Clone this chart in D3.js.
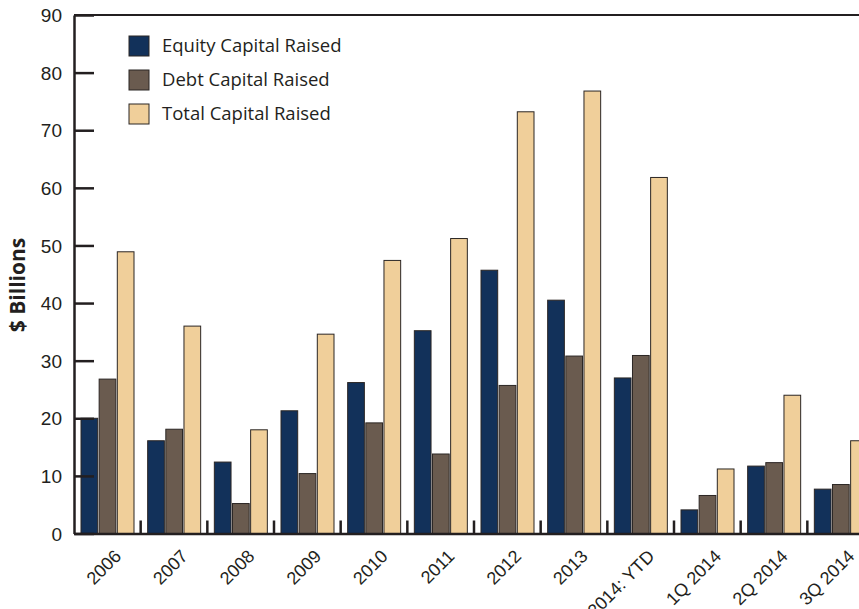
<!DOCTYPE html>
<html>
<head>
<meta charset="utf-8">
<script src="https://cdn.jsdelivr.net/npm/d3@7"></script>
<style>
  html, body { margin: 0; padding: 0; background: #fff; }
  svg { display: block; font-family: "Open Sans", "Noto Sans", sans-serif; }
</style>
</head>
<body>
<svg id="chart" width="859" height="609"></svg>
<script>
const categories = ["2006","2007","2008","2009","2010","2011","2012","2013","2014: YTD","1Q 2014","2Q 2014","3Q 2014"];
const seriesNames = ["Equity Capital Raised","Debt Capital Raised","Total Capital Raised"];
const equity = [20.0, 16.1, 12.4, 21.3, 26.2, 35.2, 45.7, 40.5, 27.0, 4.1, 11.7, 7.7];
const debt   = [26.8, 18.1, 5.2, 10.4, 19.2, 13.8, 25.7, 30.8, 30.9, 6.6, 12.3, 8.5];
const total  = [48.9, 36.0, 18.0, 34.6, 47.4, 51.2, 73.2, 76.8, 61.8, 11.2, 24.0, 16.1];
const yTicks = [0,10,20,30,40,50,60,70,80,90];
const colors = ["#12315a", "#6a5b4f", "#f0cf9a"];
const yLabel = "$ Billions";

const seriesValues = [equity, debt, total];
const svg = d3.select("#chart");
const axisColor = "#231f20";
const x0 = 74, x1 = 874, yTop = 15, yBase = 533.5;

const x = d3.scaleBand().domain(categories).range([x0, x1]).padding(0);
const xi = d3.scaleBand().domain(seriesNames).range([7, 60]).paddingInner(0.08).paddingOuter(0);
const y = d3.scaleLinear().domain([0, 90]).range([yBase, yTop]);

// Bars
const groups = svg.append("g").selectAll("g")
  .data(categories)
  .join("g")
  .attr("transform", d => `translate(${x(d)},0)`);

groups.selectAll("rect")
  .data((c, i) => seriesNames.map((s, k) => ({ s, k, v: seriesValues[k][i] })))
  .join("rect")
  .attr("x", d => xi(d.s))
  .attr("width", xi.bandwidth())
  .attr("y", d => y(d.v))
  .attr("height", d => y(0) - y(d.v))
  .attr("fill", d => colors[d.k])
  .attr("stroke", "#2b2624")
  .attr("stroke-width", 1);

// Top frame line
svg.append("line")
  .attr("x1", x0).attr("x2", 859)
  .attr("y1", yTop).attr("y2", yTop)
  .attr("stroke", axisColor).attr("stroke-width", 2);

// Y axis
const yAxis = d3.axisLeft(y).tickValues(yTicks).tickSizeInner(-20).tickSizeOuter(0).tickPadding(12);
const gy = svg.append("g").attr("transform", `translate(${x0},0)`).call(yAxis);
gy.select(".domain").attr("stroke", axisColor).attr("stroke-width", 2.5);
gy.selectAll(".tick line").attr("stroke", axisColor).attr("stroke-width", 2.5);
gy.selectAll(".tick text").attr("fill", "#231f20").style("font-size", "19px").attr("dy", "0.35em");

// X axis baseline with category separator ticks pointing up
const xAxis = d3.axisBottom(x).tickSize(0).tickPadding(0);
const gx = svg.append("g").attr("transform", `translate(0,${yBase})`).call(xAxis);
gx.select(".domain").attr("stroke", axisColor).attr("stroke-width", 2.5);
gx.selectAll(".tick text")
  .attr("fill", "#231f20")
  .style("font-size", "18px")
  .attr("text-anchor", "end")
  .attr("transform", "translate(6,15) rotate(-45)")
  .attr("dy", "0.7em");

svg.append("g").selectAll("line")
  .data(categories.slice(1))
  .join("line")
  .attr("x1", d => x(d)).attr("x2", d => x(d))
  .attr("y1", yBase).attr("y2", yBase - 13)
  .attr("stroke", axisColor).attr("stroke-width", 2.5);

// Y label
svg.append("text")
  .attr("transform", `translate(25,285) rotate(-90)`)
  .attr("text-anchor", "middle")
  .attr("fill", "#231f20")
  .style("font-size", "21px")
  .style("font-weight", "bold")
  .text(yLabel);

// Legend
const legend = svg.append("g").attr("transform", "translate(129,36)");
const ly = d3.scalePoint().domain(seriesNames).range([0, 68]);
const li = legend.selectAll("g").data(seriesNames).join("g")
  .attr("transform", d => `translate(0,${ly(d)})`);
li.append("rect")
  .attr("width", 20).attr("height", 20)
  .attr("fill", (d, i) => colors[i])
  .attr("stroke", "#2b2624").attr("stroke-width", 1);
li.append("text")
  .attr("x", 33).attr("y", 10).attr("dy", "0.35em")
  .attr("fill", "#231f20")
  .style("font-size", "18.5px")
  .text(d => d);
</script>
</body>
</html>
